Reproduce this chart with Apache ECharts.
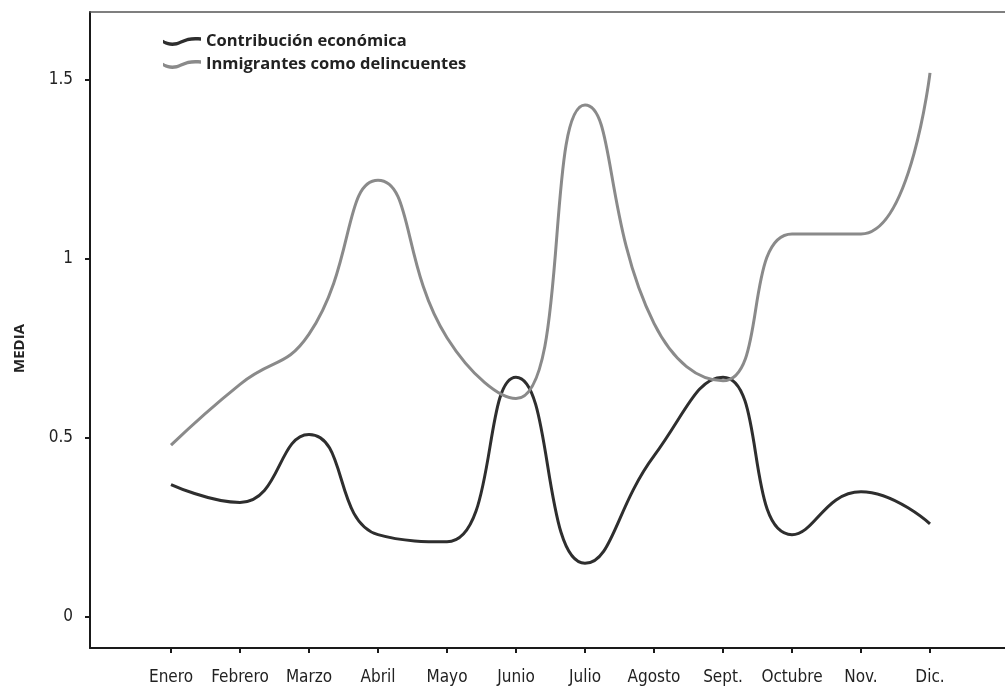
<!DOCTYPE html>
<html>
<head>
<meta charset="utf-8">
<script src="https://cdn.jsdelivr.net/npm/echarts@6/dist/echarts.min.js"></script>
<style>
html,body{margin:0;padding:0;background:#fff;}
#chart{width:1005px;height:686px;}
</style>
</head>
<body>
<div id="chart"></div>
<script>
// ---- data ----
var months = ['Enero','Febrero','Marzo','Abril','Mayo','Junio','Julio','Agosto','Sept.','Octubre','Nov.','Dic.'];
var contribucion = [0.37, 0.32, 0.51, 0.23, 0.21, 0.67, 0.15, 0.45, 0.67, 0.23, 0.35, 0.26];
var delincuentes = [0.48, 0.65, 0.79, 1.22, 0.78, 0.61, 1.43, 0.82, 0.66, 1.07, 1.07, 1.52];
var seriesNames = ['Contribución económica', 'Inmigrantes como delincuentes'];
var yTicks = {min: 0, max: 1.5, interval: 0.5};

var labelFont = '"Liberation Sans Narrow","DejaVu Sans Condensed","Liberation Sans",sans-serif';
var boldFont = '"Open Sans","Liberation Sans",sans-serif';
var waveIcon = 'path://M0,6 C6,9.5 12,9.5 18,6.5 C24,3.5 30,2.5 38,3.5 L38,7 C30,6 24,7 18,10 C12,13 6,13 0,9.5 Z';

var chart = echarts.init(document.getElementById('chart'), null, {renderer: 'canvas'});
var hidden = {show: false};
chart.setOption({
  animation: false,
  backgroundColor: '#ffffff',
  legend: {
    orient: 'vertical',
    left: 163,
    top: 32,
    padding: 0,
    itemWidth: 38,
    itemHeight: 11,
    itemGap: 4,
    icon: waveIcon,
    textStyle: {fontFamily: boldFont, fontWeight: 'bold', fontSize: 16.5, color: '#222', lineHeight: 19},
    data: seriesNames
  },
  grid: [
    {left: 90, right: -6, top: 12, bottom: 38, outerBoundsMode: 'none', containLabel: false},
    {left: 136.5, right: 40.5, top: 80, bottom: 69, outerBoundsMode: 'none', containLabel: false}
  ],
  xAxis: [
    {gridIndex: 0, type: 'value', min: 0, max: 1, position: 'bottom',
     axisLine: {show: true, onZero: false, lineStyle: {color: '#1a1a1a', width: 2}},
     axisTick: hidden, axisLabel: hidden, splitLine: hidden},
    {gridIndex: 0, type: 'value', min: 0, max: 1, position: 'top',
     axisLine: {show: true, onZero: false, lineStyle: {color: '#555', width: 1.5}},
     axisTick: hidden, axisLabel: hidden, splitLine: hidden},
    {gridIndex: 1, type: 'category', data: months, boundaryGap: true, position: 'bottom', offset: 31,
     axisLine: {show: false, onZero: false},
     axisTick: {show: true, alignWithLabel: true, length: 5, lineStyle: {color: '#1a1a1a', width: 2}},
     axisLabel: {show: true, margin: 21, interval: 0, fontFamily: labelFont, fontSize: 17, color: '#222'},
     splitLine: hidden}
  ],
  yAxis: [
    {gridIndex: 0, type: 'value', min: 0, max: 1,
     axisLine: {show: true, onZero: false, lineStyle: {color: '#1a1a1a', width: 2}},
     axisTick: hidden, axisLabel: hidden, splitLine: hidden},
    {gridIndex: 1, type: 'value', min: yTicks.min, max: yTicks.max, interval: yTicks.interval, offset: 46.5,
     name: 'MEDIA', nameLocation: 'middle', nameRotate: 90, nameGap: 63,
     nameTextStyle: {fontFamily: boldFont, fontWeight: 'bold', fontSize: 15, color: '#222'},
     axisLine: {show: false, onZero: false},
     axisTick: {show: true, length: 5, lineStyle: {color: '#1a1a1a', width: 2}},
     axisLabel: {show: true, margin: 17, fontFamily: labelFont, fontSize: 17, color: '#222'},
     splitLine: hidden}
  ],
  series: [
    {name: seriesNames[0], type: 'line', xAxisIndex: 2, yAxisIndex: 1, data: contribucion,
     smooth: 0.5, showSymbol: false, symbol: 'none', clip: false,
     itemStyle: {color: '#2e2e2e'}, lineStyle: {color: '#2e2e2e', width: 3}},
    {name: seriesNames[1], type: 'line', xAxisIndex: 2, yAxisIndex: 1, data: delincuentes,
     smooth: 0.5, showSymbol: false, symbol: 'none', clip: false,
     itemStyle: {color: '#8a8a8a'}, lineStyle: {color: '#8a8a8a', width: 3}}
  ]
});
</script>
</body>
</html>
